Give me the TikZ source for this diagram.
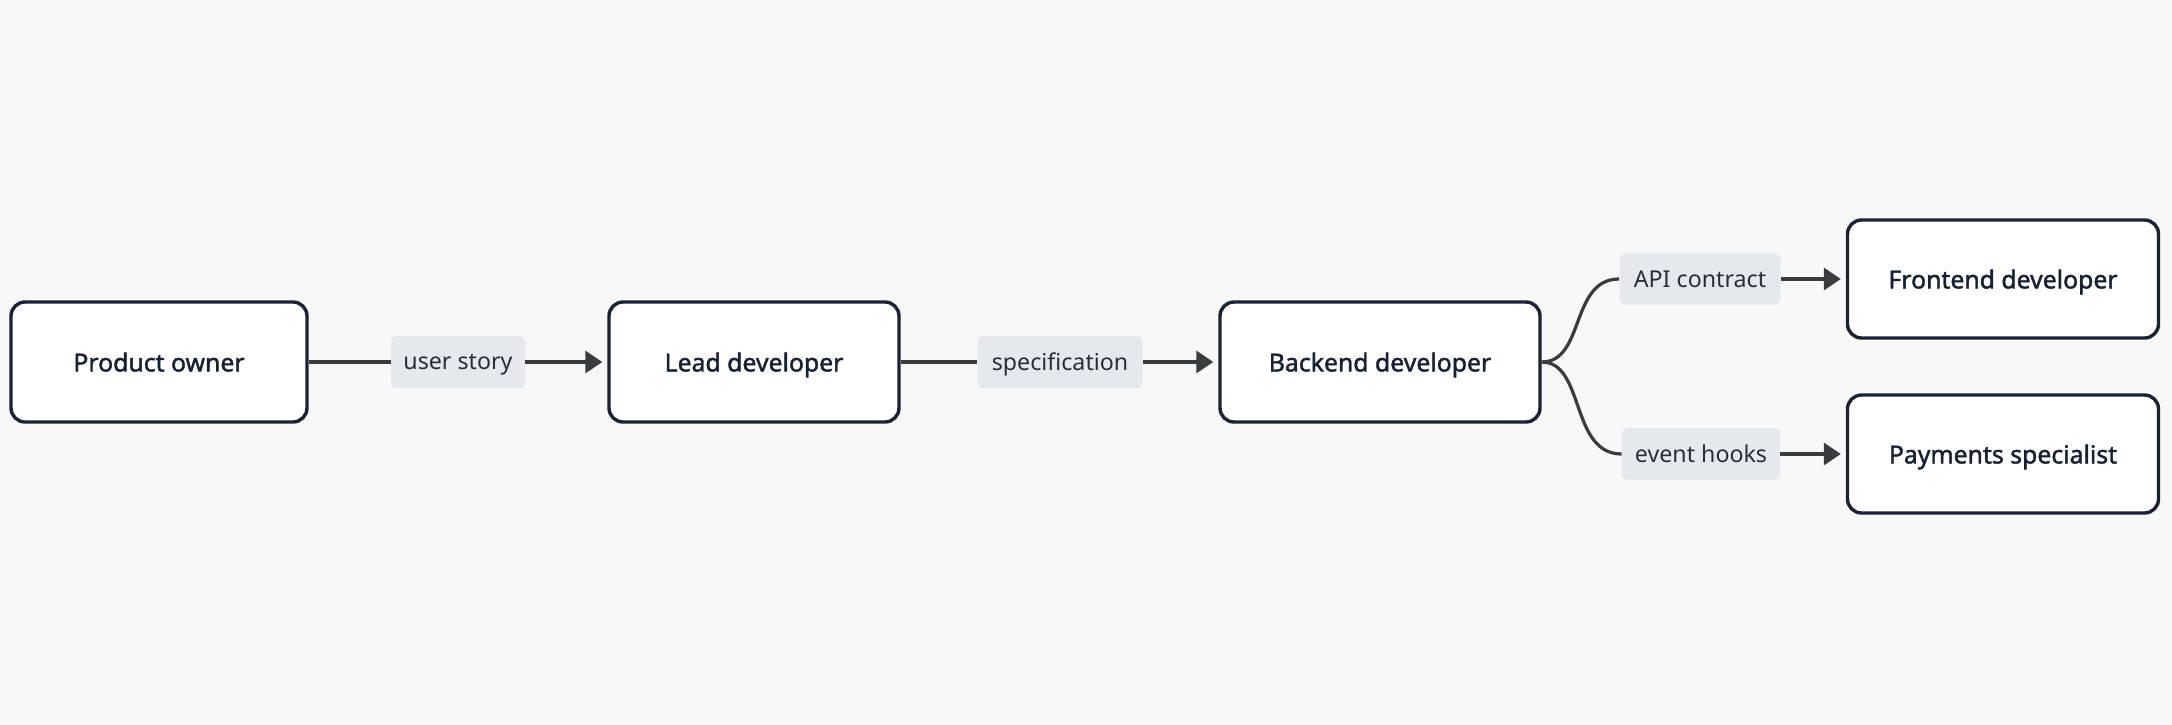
\documentclass[tikz,border=0pt]{standalone}
\usepackage{fontspec}
\setmainfont{Noto Sans}
\newfontfamily\rolefont{Noto Sans}[FakeBold=1.6]
\usetikzlibrary{arrows.meta}
\definecolor{bgc}{HTML}{F8F8F8}
\definecolor{boxline}{HTML}{1A2233}
\definecolor{boxtext}{HTML}{182033}
\definecolor{lblfill}{HTML}{E5E8EC}
\definecolor{lbltext}{HTML}{2A2E35}
\definecolor{conn}{HTML}{3A3B3D}
\tikzset{
  role/.style={draw=boxline, line width=1.7pt, fill=white, rounded corners=7pt,
    inner sep=0pt, text depth=0pt, font=\rolefont\fontsize{12.4}{15}\selectfont, text=boxtext},
  tag/.style={fill=lblfill, rounded corners=3pt, inner sep=0pt, text depth=0pt,
    font=\fontsize{11.6}{14}\selectfont, text=lbltext},
  link/.style={draw=conn, line width=1.6pt},
  arr/.style={link, -{Triangle[length=8.5pt,width=11pt]}, shorten >=2.5pt}
}
\begin{document}
\begin{tikzpicture}[x=0.5pt,y=-0.5pt]
\fill[bgc] (0,0) rectangle (2172,724);
\useasboundingbox (0,0) rectangle (2172,724);
% role boxes
\node[role, minimum width=148pt, minimum height=60pt] (po) at (159,362) {Product owner};
\node[role, minimum width=145pt, minimum height=60pt] (lead) at (754,362) {Lead developer};
\node[role, minimum width=160pt, minimum height=60pt] (back) at (1380,362) {Backend developer};
\node[role, minimum width=155.5pt, minimum height=59pt] (front) at (2003,279) {Frontend developer};
\node[role, minimum width=155.5pt, minimum height=59pt] (pay) at (2003,454) {Payments specialist};
% labels
\node[tag, minimum width=67pt, minimum height=26pt] (l1) at (458,362) {user story};
\node[tag, minimum width=82.5pt, minimum height=26pt] (l2) at (1060,362) {specification};
\node[tag, minimum width=80.5pt, minimum height=25.5pt] (l3) at (1700,279) {API contract};
\node[tag, minimum width=79pt, minimum height=26pt] (l4) at (1701,454) {event hooks};
% connectors
\draw[link] (po.east) -- (l1.west);
\draw[arr] (l1.east) -- (lead.west);
\draw[link] (lead.east) -- (l2.west);
\draw[arr] (l2.east) -- (back.west);
\draw[link] (back.east) .. controls (1585,362) and (1570,279) .. (l3.west);
\draw[link] (back.east) .. controls (1585,362) and (1570,454) .. (l4.west);
\draw[arr] (l3.east) -- (front.west);
\draw[arr] (l4.east) -- (pay.west);
\end{tikzpicture}
\end{document}
